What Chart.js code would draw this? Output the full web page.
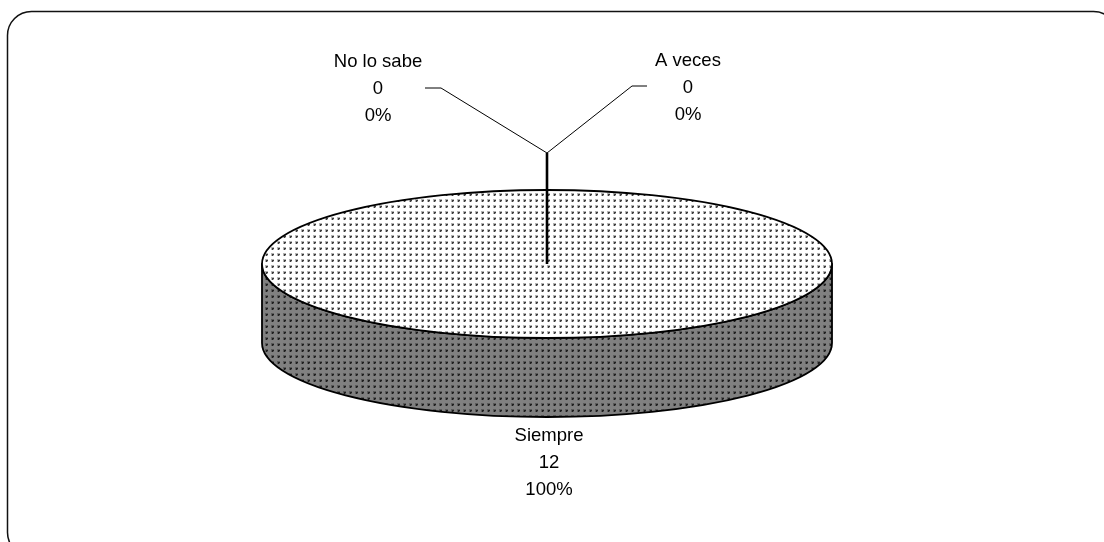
<!DOCTYPE html>
<html>
<head>
<meta charset="utf-8">
<script src="https://cdn.jsdelivr.net/npm/chart.js@4/dist/chart.umd.min.js"></script>
<style>
  html, body { margin: 0; padding: 0; background: #fff; overflow: hidden; }
  #wrap { position: relative; width: 1104px; height: 542px; }
</style>
</head>
<body>
<div id="wrap"><canvas id="chart"></canvas></div>
<script>
// Survey answers and their counts
const categories = ['Siempre', 'No lo sabe', 'A veces'];
const counts = [12, 0, 0];

// Projection of the flat pie into a tilted disc
const RX = 285;      // half-width of the disc on screen
const RY = 74;       // half-height of the disc top
const DEPTH = 79;    // thickness of the disc
const FONT = '18.5px "Liberation Sans", Arial, sans-serif';

const total = counts.reduce((a, b) => a + b, 0);
const percentText = v => Math.round(v / total * 100) + '%';

function dotPattern(bg, halo, core) {
  const c = document.createElement('canvas');
  c.width = 6; c.height = 6;
  const g = c.getContext('2d');
  g.fillStyle = bg; g.fillRect(0, 0, 6, 6);
  g.fillStyle = halo; g.fillRect(1, 1, 3, 3);
  g.fillStyle = core; g.fillRect(2, 2, 2, 1);
  g.fillRect(2, 3, 1, 1);
  return g.createPattern(c, 'repeat');
}
const topFill = dotPattern('#ffffff', '#b4b4b4', '#3c3c3c');
const sideFill = dotPattern('#808080', '#5a5a5a', '#1e1e1e');

function discTransform(arc) {
  const r = arc.outerRadius;
  return { cx: arc.x, cy: arc.y, r, sx: RX / r, sy: RY / r };
}

const tiltedPie = {
  id: 'tiltedPie',
  beforeDatasetsDraw(chart) {
    const ctx = chart.ctx;
    const arcs = chart.getDatasetMeta(0).data;
    const t = discTransform(arcs[0]);

    // walls of the disc: front half of each slice
    sideFill.setTransform(new DOMMatrix());
    arcs.forEach(arc => {
      const a0 = arc.startAngle, a1 = arc.endAngle;
      if (a1 - a0 <= 0) return;
      const lo = Math.max(a0, 0), hi = Math.min(a1, Math.PI);
      if (hi <= lo) return;
      ctx.save();
      ctx.translate(t.cx, t.cy);
      ctx.scale(t.sx, t.sy);
      ctx.beginPath();
      ctx.arc(0, 0, t.r, lo, hi);
      ctx.lineTo(Math.cos(hi) * t.r, Math.sin(hi) * t.r + DEPTH / t.sy);
      ctx.arc(0, DEPTH / t.sy, t.r, hi, lo, true);
      ctx.closePath();
      ctx.restore();
      ctx.fillStyle = sideFill;
      ctx.fill();
      ctx.lineWidth = 1.8;
      ctx.strokeStyle = '#000';
      ctx.lineJoin = 'round';
      ctx.stroke();
    });

    // squash the slices Chart.js is about to draw into the disc top
    ctx.save();
    ctx.translate(t.cx, t.cy);
    ctx.scale(t.sx, t.sy);
    ctx.translate(-t.cx, -t.cy);
    topFill.setTransform(
      new DOMMatrix().translate(t.cx, t.cy).scale(1 / t.sx, 1 / t.sy).translate(-t.cx, -t.cy)
    );
  },
  afterDatasetsDraw(chart) {
    const ctx = chart.ctx;
    ctx.restore();
    const arcs = chart.getDatasetMeta(0).data;
    const t = discTransform(arcs[0]);
    // outline of the disc top
    arcs.forEach(arc => {
      const span = arc.endAngle - arc.startAngle;
      if (span <= 0) return;
      ctx.save();
      ctx.translate(t.cx, t.cy);
      ctx.scale(t.sx, t.sy);
      ctx.beginPath();
      if (span >= Math.PI * 2 - 1e-6) {
        ctx.arc(0, 0, t.r, 0, Math.PI * 2);
      } else {
        ctx.moveTo(0, 0);
        ctx.arc(0, 0, t.r, arc.startAngle, arc.endAngle);
        ctx.closePath();
      }
      ctx.restore();
      ctx.lineWidth = 1.8;
      ctx.strokeStyle = '#000';
      ctx.stroke();
    });
  },
  afterDraw(chart) {
    const ctx = chart.ctx;
    const arcs = chart.getDatasetMeta(0).data;
    const t = discTransform(arcs[0]);
    const cx = t.cx, cy = t.cy;

    ctx.save();
    ctx.font = FONT;
    ctx.fillStyle = '#000';
    ctx.textAlign = 'center';
    ctx.textBaseline = 'alphabetic';

    const drawBlock = (x, y, i) => {
      [categories[i], String(counts[i]), percentText(counts[i])].forEach((s, k) => {
        ctx.fillText(s, x, y + k * 27);
      });
    };

    // zero-size slices sit on the radius at twelve o'clock
    const zero = counts.map((v, i) => i).filter(i => counts[i] === 0);
    if (zero.length) {
      const elbowY = cy - RY - 37;
      ctx.strokeStyle = '#000';
      ctx.lineWidth = 2.6;
      ctx.beginPath();
      ctx.moveTo(cx, cy);
      ctx.lineTo(cx, elbowY);
      ctx.stroke();

      ctx.lineWidth = 1;
      const leaders = [
        { bend: [cx - 106, elbowY - 65], end: [cx - 122, elbowY - 65], text: [cx - 169, elbowY - 86] },
        { bend: [cx + 85, elbowY - 67], end: [cx + 100, elbowY - 67], text: [cx + 141, elbowY - 87.5] }
      ];
      zero.forEach((i, k) => {
        const L = leaders[k % leaders.length];
        ctx.beginPath();
        ctx.moveTo(cx, elbowY);
        ctx.lineTo(L.bend[0], L.bend[1]);
        ctx.lineTo(L.end[0], L.end[1]);
        ctx.stroke();
        drawBlock(L.text[0], L.text[1], i);
      });
    }

    // label for the full slice, below the disc
    counts.forEach((v, i) => {
      if (v > 0) drawBlock(cx + 2, cy + RY + DEPTH + 24, i);
    });

    // rounded frame of the chart area
    ctx.lineWidth = 1.5;
    ctx.strokeStyle = '#111';
    ctx.beginPath();
    ctx.roundRect(7.5, 11.5, 1110, 545, 24);
    ctx.stroke();
    ctx.restore();
  }
};

new Chart(document.getElementById('chart'), {
  type: 'pie',
  data: {
    labels: categories,
    datasets: [{
      data: counts,
      backgroundColor: topFill,
      borderWidth: 0,
      hoverOffset: 0,
      offset: 0,
      clip: false
    }]
  },
  options: {
    responsive: true,
    maintainAspectRatio: false,
    animation: false,
    events: [],
    layout: { padding: { left: 347, right: 357, top: 64, bottom: 78 } },
    plugins: {
      legend: { display: false },
      tooltip: { enabled: false },
      title: { display: false }
    }
  },
  plugins: [tiltedPie]
});
</script>
</body>
</html>
